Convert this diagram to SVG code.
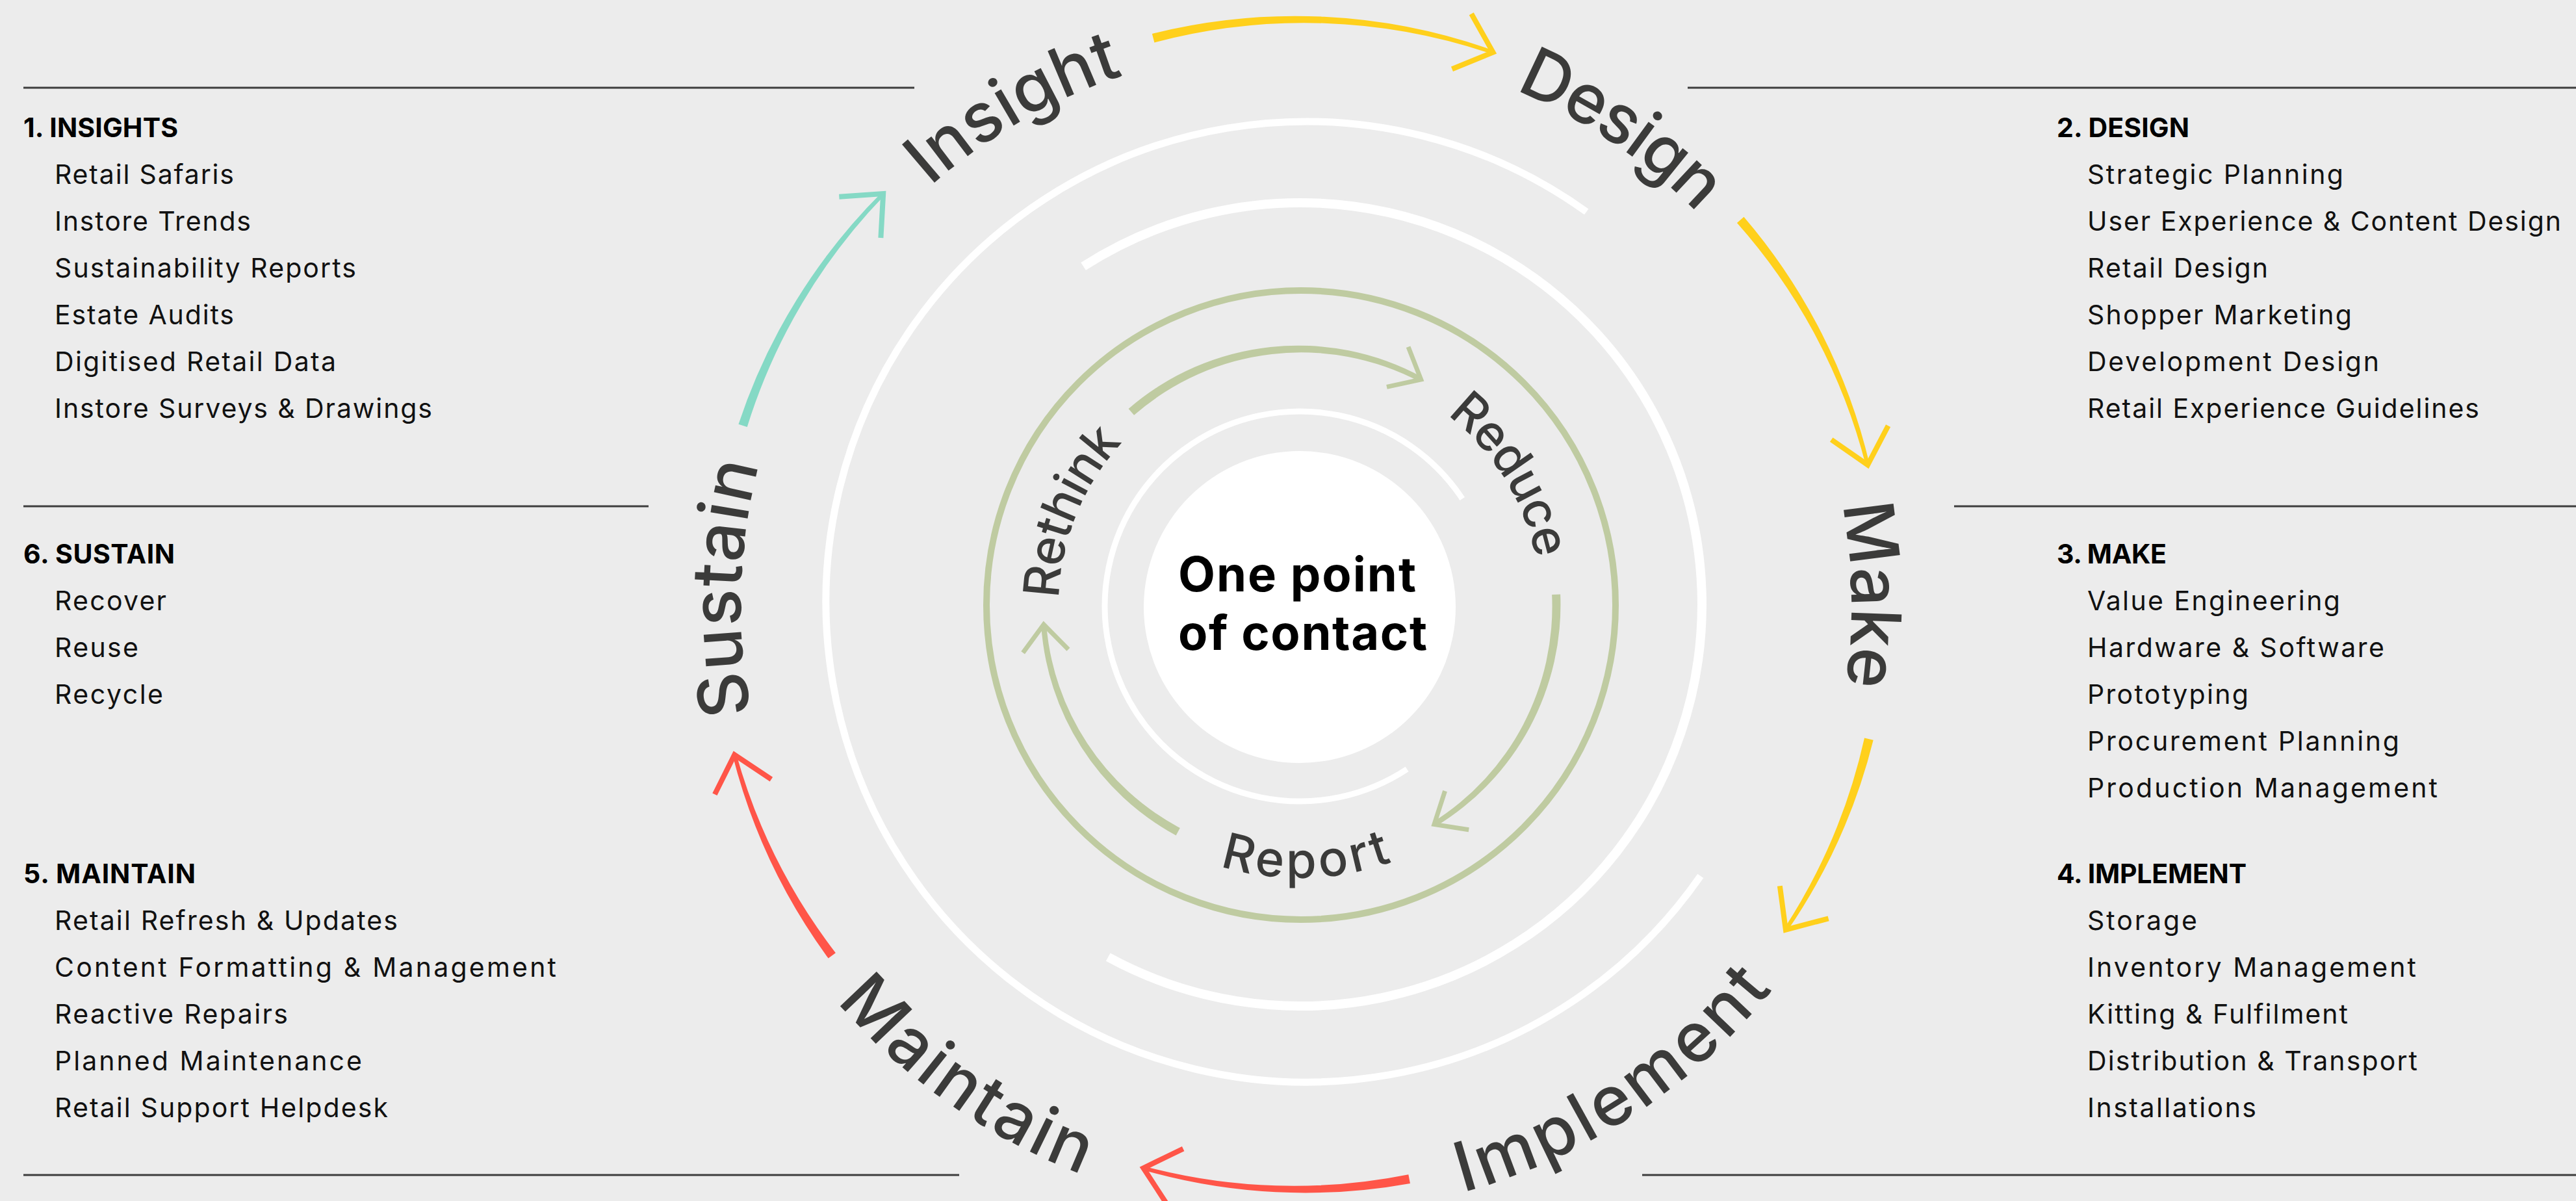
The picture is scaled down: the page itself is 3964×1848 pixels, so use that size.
<svg xmlns="http://www.w3.org/2000/svg" xmlns:xlink="http://www.w3.org/1999/xlink" width="3964" height="1848" viewBox="0 0 3964 1848">
<style>
.bg{fill:#ececec}
.rule{stroke:#3d3d3d;stroke-width:3;fill:none}
.hd{font-family:Inter,"Liberation Sans",sans-serif;font-weight:700;font-size:41px;fill:#000}
.it{font-family:Inter,"Liberation Sans",sans-serif;font-weight:400;font-size:41px;fill:#111}
.big{font-family:Inter,"Liberation Sans",sans-serif;font-weight:500;font-size:106px;fill:#3b3b3a}
.sm{font-family:Inter,"Liberation Sans",sans-serif;font-weight:500;font-size:76px;fill:#3b3b3a}
.ctr{font-family:Inter,"Liberation Sans",sans-serif;font-weight:700;font-size:74px;fill:#000}
.ring{fill:none;stroke:#fff}
.yel{fill:#ffd01c}.yels{stroke:#ffd01c}
.red{fill:#ff5548}.reds{stroke:#ff5548}
.teal{fill:#85d9c5}.teals{stroke:#85d9c5}
.grn{fill:#bfcba1}.grns{stroke:#bfcba1}
.head{fill:none;stroke-width:8;stroke-linejoin:miter;stroke-linecap:butt}
.ghead{fill:none;stroke-width:7;stroke-linejoin:miter;stroke-linecap:butt}
</style>
<defs>
<path id="cwOuter" d="M2000 1792 A860 860 0 1 1 2000 72 A860 860 0 1 1 2000 1792"/>
<path id="cwMake" d="M2000 1781 A849 849 0 1 1 2000 83 A849 849 0 1 1 2000 1781"/>
<path id="ccwOuter" d="M1063 932 A937 937 0 1 0 2937 932 A937 937 0 1 0 1063 932"/>
<path id="cwInner" d="M2000 1303 A371 371 0 1 1 2000 561 A371 371 0 1 1 2000 1303"/>
<path id="ccwInner" d="M1581 932 A419 419 0 1 0 2419 932 A419 419 0 1 0 1581 932"/>
<path id="outerHead" d="M-51 -45 L0 0 L-51 45"/>
<path id="innerHead" d="M-41 -35 L0 0 L-41 35"/>
</defs>
<rect class="bg" x="0" y="0" width="3964" height="1848"/>

<g id="rules">
<line class="rule" x1="36" y1="135" x2="1407" y2="135"/>
<line class="rule" x1="2597" y1="135" x2="3964" y2="135"/>
<line class="rule" x1="36" y1="779" x2="998" y2="779"/>
<line class="rule" x1="3007" y1="779" x2="3964" y2="779"/>
<line class="rule" x1="36" y1="1808" x2="1476" y2="1808"/>
<line class="rule" x1="2527" y1="1808" x2="3964" y2="1808"/>
</g>

<g id="rings">
<path class="ring" stroke-width="11" d="M2616.8 1347.8 A739 739 0 1 1 2441.2 325.9"/>
<path class="ring" stroke-width="14" d="M1667.1 409.9 A618 618 0 1 1 1705.2 1472.6"/>
<circle cx="2002" cy="931" r="484" fill="none" stroke="#bfcba1" stroke-width="10"/>
<path class="ring" stroke-width="9" d="M2165.1 1183.5 A300 300 0 1 1 2250.2 767.4"/>
</g>

<g id="connectors">
<g transform="translate(2000,930) rotate(197.8)">
<path class="teal" d="M907 0 A905 905 0 0 1 806.01 407.14 L800.65 404.44 A895 895 0 0 0 893 0 Z"/>
<use href="#outerHead" class="head teals" transform="translate(803.33,405.79) rotate(116.8)"/>
</g>
<g transform="translate(2000,930) rotate(255.5)">
<path class="yel" d="M907 0 A905 905 0 0 1 750.38 502.34 L745.40 499.00 A895 895 0 0 0 893 0 Z"/>
<use href="#outerHead" class="head yels" transform="translate(747.89,500.67) rotate(123.8)"/>
</g>
<g transform="translate(2000,930) rotate(318.9)">
<path class="yel" d="M907 0 A905 905 0 0 1 802.43 414.17 L797.10 411.42 A895 895 0 0 0 893 0 Z"/>
<use href="#outerHead" class="head yels" transform="translate(799.77,412.79) rotate(117.3)"/>
</g>
<g transform="translate(2000,930) rotate(13.3)">
<path class="yel" d="M907 0 A905 905 0 0 1 845.81 316.24 L840.19 314.14 A895 895 0 0 0 893 0 Z"/>
<use href="#outerHead" class="head yels" transform="translate(843.00,315.19) rotate(110.5)"/>
</g>
<g transform="translate(2000,930) rotate(79.2)">
<path class="red" d="M907 0 A905 905 0 0 1 809.54 400.10 L804.16 397.44 A895 895 0 0 0 893 0 Z"/>
<use href="#outerHead" class="head reds" transform="translate(806.85,398.77) rotate(116.3)"/>
</g>
<g transform="translate(2000,930) rotate(143.1)">
<path class="red" d="M907 0 A905 905 0 0 1 837.24 338.27 L831.68 336.03 A895 895 0 0 0 893 0 Z"/>
<use href="#outerHead" class="head reds" transform="translate(834.46,337.15) rotate(112)"/>
</g>
<g transform="translate(2000,932) rotate(229)">
<path class="grn" d="M401.5 0 A399 399 0 0 1 141.69 373.00 L138.85 365.52 A391 391 0 0 0 388.5 0 Z"/>
<use href="#innerHead" class="ghead grns" transform="translate(140.27,369.26) rotate(159.2)"/>
</g>
<g transform="translate(2000,932) rotate(357.5)">
<path class="grn" d="M401.5 0 A399 399 0 0 1 194.04 348.63 L190.16 341.65 A391 391 0 0 0 388.5 0 Z"/>
<use href="#innerHead" class="ghead grns" transform="translate(192.10,345.14) rotate(150.9)"/>
</g>
<g transform="translate(2000,932) rotate(118.3)">
<path class="grn" d="M401.5 0 A399 399 0 0 1 214.39 336.51 L210.08 329.76 A391 391 0 0 0 388.5 0 Z"/>
<use href="#innerHead" class="ghead grns" transform="translate(212.23,333.14) rotate(147.5)"/>
</g>
</g>

<g id="node-center">
<circle cx="2000" cy="934" r="240" fill="#fff"/>
<text class="ctr" x="1813" y="910" textLength="366">One point</text>
<text class="ctr" x="1813" y="1000" textLength="383">of contact</text>
</g>

<g id="node-insight"><text class="big"><textPath href="#cwOuter" startOffset="2253" text-anchor="middle" textLength="345">Insight</textPath></text></g>
<g id="node-design"><text class="big"><textPath href="#cwOuter" startOffset="3212" text-anchor="middle" textLength="340">Design</textPath></text></g>
<g id="node-make"><text class="big"><textPath href="#cwMake" startOffset="3984" text-anchor="middle" textLength="280">Make</textPath></text></g>
<g id="node-implement"><text class="big"><textPath href="#ccwOuter" startOffset="2015" text-anchor="middle" textLength="579">Implement</textPath></text></g>
<g id="node-maintain"><text class="big"><textPath href="#ccwOuter" startOffset="896" text-anchor="middle" textLength="466">Maintain</textPath></text></g>
<g id="node-sustain"><text class="big"><textPath href="#cwOuter" startOffset="1377" text-anchor="middle" textLength="386">Sustain</textPath></text></g>

<g id="node-rethink"><text class="sm"><textPath href="#cwInner" startOffset="726" text-anchor="middle" textLength="265">Rethink</textPath></text></g>
<g id="node-reduce"><text class="sm"><textPath href="#cwInner" startOffset="1542" text-anchor="middle" textLength="266">Reduce</textPath></text></g>
<g id="node-report"><text class="sm"><textPath href="#ccwInner" startOffset="668" text-anchor="middle" textLength="270">Report</textPath></text></g>

<g id="list-insights">
<text class="hd" x="36" y="211" textLength="238">1. INSIGHTS</text>
<text class="it" x="84" y="283" textLength="276">Retail Safaris</text>
<text class="it" x="84" y="355" textLength="302">Instore Trends</text>
<text class="it" x="84" y="427" textLength="464">Sustainability Reports</text>
<text class="it" x="84" y="499" textLength="276">Estate Audits</text>
<text class="it" x="84" y="571" textLength="433">Digitised Retail Data</text>
<text class="it" x="84" y="643" textLength="581">Instore Surveys &amp; Drawings</text>
</g>
<g id="list-sustain">
<text class="hd" x="36" y="867" textLength="233">6. SUSTAIN</text>
<text class="it" x="84" y="939" textLength="172">Recover</text>
<text class="it" x="84" y="1011" textLength="129">Reuse</text>
<text class="it" x="84" y="1083" textLength="167">Recycle</text>
</g>
<g id="list-maintain">
<text class="hd" x="36" y="1359" textLength="265">5. MAINTAIN</text>
<text class="it" x="84" y="1431" textLength="528">Retail Refresh &amp; Updates</text>
<text class="it" x="84" y="1503" textLength="772">Content Formatting &amp; Management</text>
<text class="it" x="84" y="1575" textLength="359">Reactive Repairs</text>
<text class="it" x="84" y="1647" textLength="473">Planned Maintenance</text>
<text class="it" x="84" y="1719" textLength="513">Retail Support Helpdesk</text>
</g>
<g id="list-design">
<text class="hd" x="3165" y="211" textLength="204">2. DESIGN</text>
<text class="it" x="3212" y="283" textLength="394">Strategic Planning</text>
<text class="it" x="3212" y="355" textLength="729">User Experience &amp; Content Design</text>
<text class="it" x="3212" y="427" textLength="278">Retail Design</text>
<text class="it" x="3212" y="499" textLength="407">Shopper Marketing</text>
<text class="it" x="3212" y="571" textLength="449">Development Design</text>
<text class="it" x="3212" y="643" textLength="603">Retail Experience Guidelines</text>
</g>
<g id="list-make">
<text class="hd" x="3165" y="867" textLength="169">3. MAKE</text>
<text class="it" x="3212" y="939" textLength="389">Value Engineering</text>
<text class="it" x="3212" y="1011" textLength="457">Hardware &amp; Software</text>
<text class="it" x="3212" y="1083" textLength="248">Prototyping</text>
<text class="it" x="3212" y="1155" textLength="480">Procurement Planning</text>
<text class="it" x="3212" y="1227" textLength="539">Production Management</text>
</g>
<g id="list-implement">
<text class="hd" x="3165" y="1359" textLength="292">4. IMPLEMENT</text>
<text class="it" x="3212" y="1431" textLength="169">Storage</text>
<text class="it" x="3212" y="1503" textLength="506">Inventory Management</text>
<text class="it" x="3212" y="1575" textLength="401">Kitting &amp; Fulfilment</text>
<text class="it" x="3212" y="1647" textLength="508">Distribution &amp; Transport</text>
<text class="it" x="3212" y="1719" textLength="260">Installations</text>
</g>
</svg>
